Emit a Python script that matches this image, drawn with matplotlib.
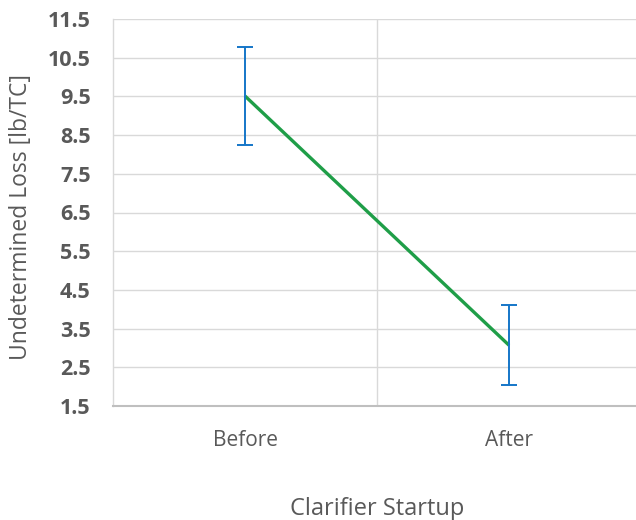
import matplotlib
matplotlib.use("Agg")
from matplotlib import pyplot as plt

# values
categories = ["Before", "After"]
loss_mean = [9.51, 3.07]
loss_err = [1.27, 1.03]
y_ticks = [1.5, 2.5, 3.5, 4.5, 5.5, 6.5, 7.5, 8.5, 9.5, 10.5, 11.5]

text_grey = "#595959"
grid_grey = "#D9D9D9"

plt.rcParams["font.family"] = ["Open Sans", "DejaVu Sans"]

fig = plt.figure(figsize=(6.36, 5.2), dpi=100)
# axes box: left 113px, top 19px, bottom 406px, right at the image edge
ax = fig.add_axes([113 / 636, 1 - 406 / 520, (636 - 113) / 636, (406 - 19) / 520])

x = list(range(len(categories)))
ax.plot(x, loss_mean, color="#1F9E48", lw=2.4, solid_capstyle="butt", zorder=3)
ax.errorbar(x, loss_mean, yerr=loss_err, fmt="none", ecolor="#1576C8",
            elinewidth=1.4, capsize=5.5, capthick=1.4, zorder=4)

ax.set_xlim(-0.5, 1.481)
ax.set_ylim(1.5, 11.5)
ax.set_yticks(y_ticks)
ax.set_yticklabels([f"{v:g}" for v in y_ticks], fontweight="bold",
                   fontsize=15.5, color=text_grey)
ax.set_xticks(x)
ax.set_xticklabels(categories, fontsize=15, color=text_grey)

# gridlines: horizontal at every tick, vertical at category boundaries
ax.set_xticks([0.5], minor=True)
ax.grid(axis="y", which="major", color=grid_grey, lw=1.0)
ax.grid(axis="x", which="minor", color=grid_grey, lw=1.0)
ax.set_axisbelow(True)
ax.tick_params(axis="both", which="both", length=0)
ax.tick_params(axis="y", pad=16)
ax.tick_params(axis="x", pad=17)

for side in ["top", "right"]:
    ax.spines[side].set_visible(False)
ax.spines["left"].set_color(grid_grey)
ax.spines["left"].set_linewidth(1.0)
ax.spines["bottom"].set_color("#BFBFBF")
ax.spines["bottom"].set_linewidth(1.5)

fig.text(21 / 636, 1 - 217 / 520, "Undetermined Loss [lb/TC]", rotation=90,
         ha="center", va="center", fontsize=16.5, color=text_grey)
fig.text(377 / 636, 1 - 515 / 520, "Clarifier Startup", ha="center",
         va="baseline", fontsize=17, color=text_grey)

fig.savefig("out.png", dpi=100)
